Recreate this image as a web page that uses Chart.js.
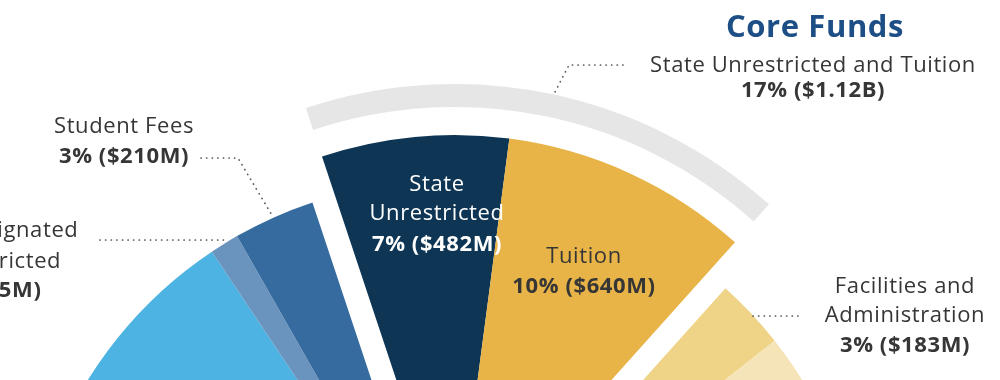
<!DOCTYPE html>
<html>
<head>
<meta charset="utf-8">
<script src="https://cdn.jsdelivr.net/npm/chart.js@4.4.0/dist/chart.umd.min.js"></script>
<style>
  html, body { margin: 0; padding: 0; background: #ffffff; overflow: hidden; width: 1000px; height: 380px; }
  #wrap { position: absolute; left: 0; top: 0; width: 1000px; height: 1202px; }
</style>
</head>
<body>
<div id="wrap"><canvas id="c" width="1000" height="1202"></canvas></div>
<script>
// ---------------- data ----------------
const categories = [
  "State Unrestricted",
  "Tuition",
  "Facilities and Administration",
  "Other (lower right, label out of view)",
  "Remaining funds (out of view)",
  "Other (lower left, label out of view)",
  "Other Designated and Restricted",
  "Student Fees"
];
const amountsM = [482, 640, 183, 300, 3510, 1300, 75, 210];
const percentLabels = ["7%", "10%", "3%", "", "", "", "1%", "3%"];
const amountLabels = ["$482M", "$640M", "$183M", "", "", "", "$75M", "$210M"];
const coreGroup = ["State Unrestricted", "Tuition"];
const coreTitle = "Core Funds";
const coreSubtitle = "State Unrestricted and Tuition";
const corePercent = "17%";
const coreAmount = "$1.12B";

// ---------------- styles ----------------
const sliceColors = ["#0e3654", "#e8b447", "#efd386", "#f4e4b8", "#dddddd", "#4db3e2", "#6a93bd", "#356b9e"];
const bandColor = "#e6e6e6";
const textDark = "#363636";
const titleBlue = "#1d4f86";
const leaderColor = "#555555";
const FONT = '"Open Sans", "Lato", sans-serif';
const regFont = '22px ' + FONT;
const boldFont = 'bold 22px ' + FONT;
const titleFont = 'bold 31px ' + FONT;
const explodeGap = 47;

const coreIdx = coreGroup.map(n => categories.indexOf(n));
const coreTotal = coreIdx.reduce((s, i) => s + amountsM[i], 0);
const grandTotal = amountsM.reduce((s, v) => s + v, 0);
const valueLine = i => percentLabels[i] + " (" + amountLabels[i] + ")";
const splitWords = (s, counts) => {
  const w = s.split(" "); const out = []; let k = 0;
  counts.forEach(c => { out.push(w.slice(k, k + c).join(" ")); k += c; });
  return out;
};

// ---------------- annotation layout ----------------
const iState = categories.indexOf("State Unrestricted");
const iTuition = categories.indexOf("Tuition");
const iFac = categories.indexOf("Facilities and Administration");
const iOther = categories.indexOf("Other Designated and Restricted");
const iFees = categories.indexOf("Student Fees");

const blocks = [
  { x: 815, ys: [37], color: titleBlue, lines: [[coreTitle, titleFont]] },
  { x: 813, ys: [72, 97], color: textDark, lines: [[coreSubtitle, regFont], [corePercent + " (" + coreAmount + ")", boldFont]] },
  { x: 124, ys: [133, 163], color: textDark, lines: [[categories[iFees], regFont], [valueLine(iFees), boldFont]] },
  { x: -17, ys: [237, 268, 297], color: textDark,
    lines: splitWords(categories[iOther], [2, 2]).map(t => [t, regFont]).concat([[valueLine(iOther), boldFont]]) },
  { x: 437, ys: [191, 220, 251], color: "#ffffff",
    lines: splitWords(categories[iState], [1, 1]).map(t => [t, regFont]).concat([[valueLine(iState), boldFont]]) },
  { x: 584, ys: [263, 293], color: textDark, lines: [[categories[iTuition], regFont], [valueLine(iTuition), boldFont]] },
  { x: 905, ys: [293, 322, 352], color: textDark,
    lines: splitWords(categories[iFac], [2, 1]).map(t => [t, regFont]).concat([[valueLine(iFac), boldFont]]) }
];
const leaders = [
  [[623, 65], [569, 65], [555, 92]],
  [[201, 158], [238, 158], [273, 217]],
  [[100, 240], [227, 240]],
  [[753, 316], [802, 316]]
];

// ---------------- plugins ----------------
const explodeCore = {
  id: 'explodeCore',
  afterDatasetsUpdate(chart) {
    const pie = chart.getDatasetMeta(2).data;
    const first = pie[Math.min(...coreIdx)], last = pie[Math.max(...coreIdx)];
    const mid = (first.startAngle + last.endAngle) / 2;
    const dx = Math.cos(mid) * explodeGap, dy = Math.sin(mid) * explodeGap;
    coreIdx.forEach(i => { pie[i].x += dx; pie[i].y += dy; });
    const band = chart.getDatasetMeta(0).data[0];
    band.x += dx; band.y += dy;
  }
};
const annotations = {
  id: 'annotations',
  afterDraw(chart) {
    const ctx = chart.ctx;
    ctx.save();
    ctx.strokeStyle = leaderColor;
    ctx.lineWidth = 1.7;
    ctx.lineCap = 'round';
    ctx.setLineDash([0.2, 5.4]);
    leaders.forEach(pts => {
      ctx.beginPath();
      pts.forEach((p, k) => k ? ctx.lineTo(p[0], p[1]) : ctx.moveTo(p[0], p[1]));
      ctx.stroke();
    });
    ctx.setLineDash([]);
    ctx.textAlign = 'center';
    ctx.textBaseline = 'alphabetic';
    if ('letterSpacing' in ctx) ctx.letterSpacing = '0.6px';
    blocks.forEach(b => {
      ctx.fillStyle = b.color;
      b.lines.forEach((ln, k) => { ctx.font = ln[1]; ctx.fillText(ln[0], b.x, b.ys[k]); });
    });
    ctx.restore();
  }
};

// ---------------- chart ----------------
new Chart(document.getElementById('c'), {
  type: 'pie',
  data: {
    labels: categories,
    datasets: [
      { label: 'Core Funds band', data: [coreTotal, grandTotal - coreTotal],
        backgroundColor: [bandColor, 'rgba(0,0,0,0)'], borderWidth: 0, weight: 23 },
      { label: 'gap', data: [grandTotal], backgroundColor: ['rgba(0,0,0,0)'], borderWidth: 0, weight: 28 },
      { label: 'Funds ($M)', data: amountsM, backgroundColor: sliceColors, borderWidth: 0, weight: 420 }
    ]
  },
  options: {
    responsive: false,
    animation: false,
    events: [],
    rotation: -18.4,
    radius: 471,
    layout: { padding: { left: 0, right: 110, top: 0, bottom: 0 } },
    plugins: { legend: { display: false }, tooltip: { enabled: false }, title: { display: false } }
  },
  plugins: [explodeCore, annotations]
});
</script>
</body>
</html>
